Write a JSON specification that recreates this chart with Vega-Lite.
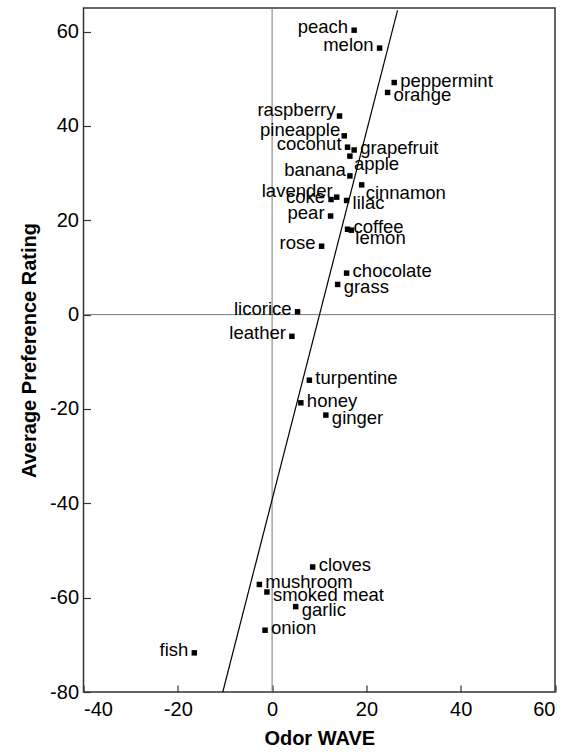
{
  "$schema": "https://vega.github.io/schema/vega-lite/v6.json",
  "autosize": {"type": "none"},
  "padding": {"left": 83.5, "top": 8, "right": 18, "bottom": 61},
  "width": 471.5,
  "height": 684,
  "background": "white",
  "data": {"values": [
    {"odor": "peach", "wave": 17.4, "rating": 60.3},
    {"odor": "melon", "wave": 22.8, "rating": 56.5},
    {"odor": "peppermint", "wave": 25.9, "rating": 49.2},
    {"odor": "orange", "wave": 24.5, "rating": 47.1},
    {"odor": "raspberry", "wave": 14.3, "rating": 42.1},
    {"odor": "pineapple", "wave": 15.3, "rating": 37.9},
    {"odor": "coconut", "wave": 16.0, "rating": 35.5},
    {"odor": "grapefruit", "wave": 17.4, "rating": 34.9},
    {"odor": "apple", "wave": 16.5, "rating": 33.6},
    {"odor": "banana", "wave": 16.5, "rating": 29.4},
    {"odor": "cinnamon", "wave": 19.0, "rating": 27.5},
    {"odor": "lavender", "wave": 13.7, "rating": 24.9},
    {"odor": "coke", "wave": 12.5, "rating": 24.4},
    {"odor": "lilac", "wave": 15.8, "rating": 24.2},
    {"odor": "pear", "wave": 12.4, "rating": 20.9},
    {"odor": "coffee", "wave": 16.0, "rating": 18.1},
    {"odor": "lemon", "wave": 16.8, "rating": 17.9},
    {"odor": "rose", "wave": 10.5, "rating": 14.5},
    {"odor": "chocolate", "wave": 15.8, "rating": 8.8},
    {"odor": "grass", "wave": 13.9, "rating": 6.4},
    {"odor": "licorice", "wave": 5.4, "rating": 0.6},
    {"odor": "leather", "wave": 4.2, "rating": -4.6},
    {"odor": "turpentine", "wave": 7.9, "rating": -13.9},
    {"odor": "honey", "wave": 6.1, "rating": -18.7},
    {"odor": "ginger", "wave": 11.4, "rating": -21.3},
    {"odor": "cloves", "wave": 8.6, "rating": -53.5},
    {"odor": "mushroom", "wave": -2.7, "rating": -57.2},
    {"odor": "smoked meat", "wave": -1.1, "rating": -58.8},
    {"odor": "garlic", "wave": 5.0, "rating": -61.9},
    {"odor": "onion", "wave": -1.5, "rating": -66.9},
    {"odor": "fish", "wave": -16.5, "rating": -71.7}
  ]},
  "encoding": {
    "x": {"field": "wave", "type": "quantitative",
          "scale": {"domain": [-40, 60], "nice": false, "zero": false},
          "axis": {"title": "Odor WAVE", "values": [-40, -20, 0, 20, 40, 60], "labelExpr": "datum.value + ''", "labelPadding": 14, "titlePadding": 9}},
    "y": {"field": "rating", "type": "quantitative",
          "scale": {"domain": [-80, 65], "nice": false, "zero": false},
          "axis": {"title": "Average Preference Rating", "values": [-80, -60, -40, -20, 0, 20, 40, 60], "labelExpr": "datum.value + ''", "labelPadding": 12, "titlePadding": 10}}
  },
  "layer": [
    {"data": {"values": [{"v": 0}]}, "mark": {"type": "rule", "color": "#777", "strokeWidth": 1},
     "encoding": {"x": {"field": "v", "type": "quantitative"}, "y": null}},
    {"data": {"values": [{"v": 0}]}, "mark": {"type": "rule", "color": "#777", "strokeWidth": 1},
     "encoding": {"y": {"field": "v", "type": "quantitative"}, "x": null}},
    {"data": {"values": [{"wave": -10.46, "rating": -80}, {"wave": 26.6, "rating": 64.5}]},
     "mark": {"type": "line", "color": "black", "strokeWidth": 1.2, "clip": true}},
    {"mark": {"type": "square", "color": "black", "opacity": 1, "size": 30}},
    {"transform": [{"filter": {"field": "odor", "oneOf": ["peppermint", "grapefruit", "coffee", "chocolate", "turpentine", "honey", "cloves", "mushroom", "onion"]}}],
     "mark": {"type": "text", "align": "left", "baseline": "alphabetic", "dx": 6, "dy": 4, "font": "Liberation Sans", "fontSize": 18.5, "color": "black"},
     "encoding": {"text": {"field": "odor"}}},
    {"transform": [{"filter": {"field": "odor", "oneOf": ["orange", "lilac", "grass", "ginger", "smoked meat", "garlic"]}}],
     "mark": {"type": "text", "align": "left", "baseline": "alphabetic", "dx": 6, "dy": 9, "font": "Liberation Sans", "fontSize": 18.5, "color": "black"},
     "encoding": {"text": {"field": "odor"}}},
    {"transform": [{"filter": {"field": "odor", "oneOf": ["apple", "cinnamon", "lemon"]}}],
     "mark": {"type": "text", "align": "left", "baseline": "alphabetic", "dx": 4, "dy": 14, "font": "Liberation Sans", "fontSize": 18.5, "color": "black"},
     "encoding": {"text": {"field": "odor"}}},
    {"transform": [{"filter": {"field": "odor", "oneOf": ["peach", "melon", "coconut", "coke", "pear", "rose", "licorice", "leather", "fish"]}}],
     "mark": {"type": "text", "align": "right", "baseline": "alphabetic", "dx": -6, "dy": 3, "font": "Liberation Sans", "fontSize": 18.5, "color": "black"},
     "encoding": {"text": {"field": "odor"}}},
    {"transform": [{"filter": {"field": "odor", "oneOf": ["raspberry", "pineapple", "banana", "lavender"]}}],
     "mark": {"type": "text", "align": "right", "baseline": "alphabetic", "dx": -4, "dy": 0, "font": "Liberation Sans", "fontSize": 18.5, "color": "black"},
     "encoding": {"text": {"field": "odor"}}}
  ],
  "config": {
    "view": {"stroke": "#333", "strokeWidth": 1.5},
    "axis": {
      "domain": false, "grid": false,
      "ticks": true, "tickSize": -7, "tickColor": "#333", "tickWidth": 1.2,
      "labelFont": "Liberation Sans", "labelFontSize": 20, "labelColor": "black",
      "titleFont": "Liberation Sans", "titleFontSize": 20, "titleFontWeight": "bold", "titleColor": "black"
    }
  }
}
